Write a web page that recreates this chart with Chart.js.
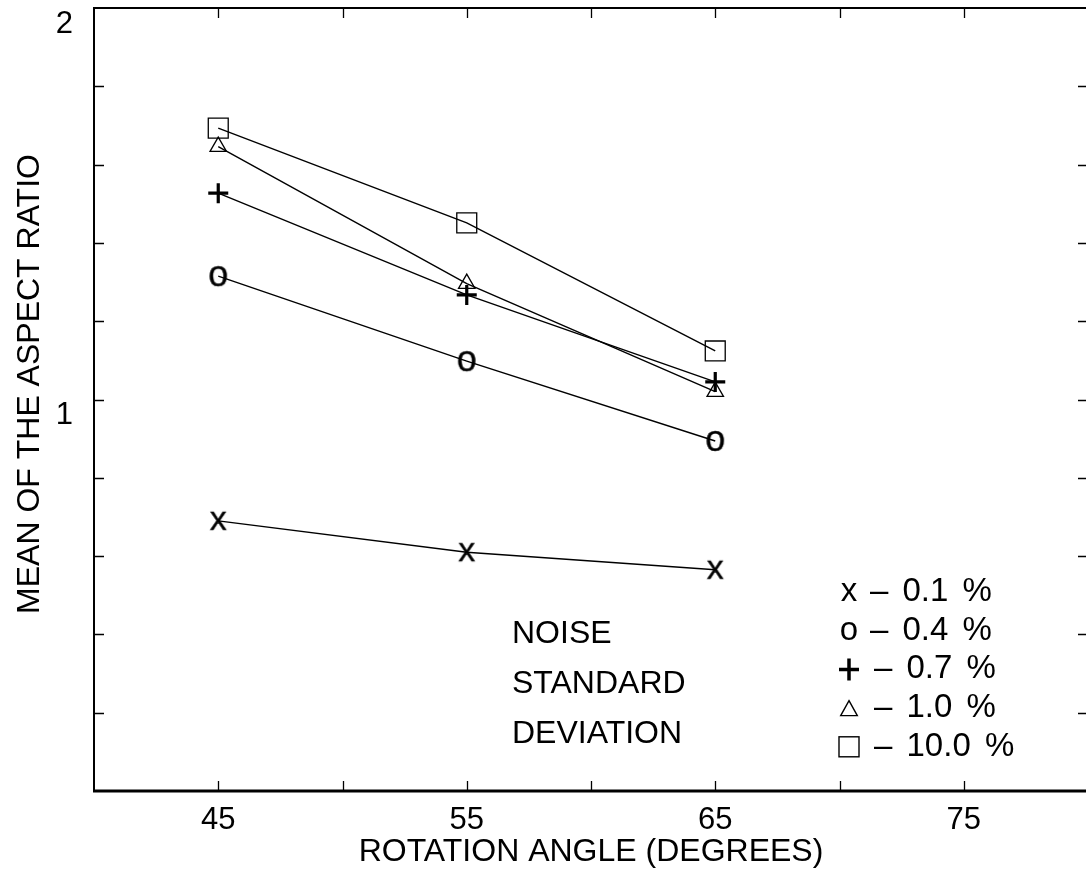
<!DOCTYPE html>
<html>
<head>
<meta charset="utf-8">
<title>Mean of the aspect ratio vs rotation angle</title>
<script src="https://cdn.jsdelivr.net/npm/chart.js@4/dist/chart.umd.min.js"></script>
<style>
  html, body { margin: 0; padding: 0; background: #fff; overflow: hidden; }
  #wrap { width: 1086px; height: 871px; overflow: hidden; position: relative; }
  canvas { display: block; }
</style>
</head>
<body>
<div id="wrap"><canvas id="chart" width="1100" height="871"></canvas></div>
<script>
// Rotation angles (degrees) and mean aspect ratio for each noise level
const angles = [45, 55, 65];
const noise01 = [0.690, 0.610, 0.565];
const noise04 = [1.315, 1.098, 0.894];
const noise07 = [1.527, 1.267, 1.045];
const noise10 = [1.646, 1.296, 1.020];
const noise100 = [1.693, 1.451, 1.124];

// Axis ranges and labelled ticks
const xRange = [40, 80];
const yRange = [0, 2];
const xTickLabels = [45, 55, 65, 75];
const yTickLabels = [1, 2];

// Text
const xTitle = 'ROTATION ANGLE (DEGREES)';
const yTitle = 'MEAN OF THE ASPECT RATIO';
const noteLines = ['NOISE', 'STANDARD', 'DEVIATION'];
const legendSymbols = ['x', 'o', '+', 'triangle', 'square'];
const legendLabels = ['– 0.1 %', '– 0.4 %', '– 0.7 %', '– 1.0 %', '– 10.0 %'];

const FONT = '"Liberation Sans", Arial, Helvetica, sans-serif';

// Letter-shaped markers (x and o) rendered into small canvases
function glyphMarker(ch, size) {
  const c = document.createElement('canvas');
  c.width = 44; c.height = 44;
  const g = c.getContext('2d');
  g.fillStyle = '#000';
  g.strokeStyle = '#000';
  g.lineWidth = 0.4;
  g.font = size + 'px ' + FONT;
  g.textAlign = 'center';
  g.textBaseline = 'alphabetic';
  const m = g.measureText(ch);
  const by = 22 + (m.actualBoundingBoxAscent - m.actualBoundingBoxDescent) / 2;
  g.fillText(ch, 22, by);
  g.strokeText(ch, 22, by);
  return c;
}

function series(values, style, radius, width) {
  return {
    data: angles.map((a, i) => ({ x: a, y: values[i] })),
    borderColor: '#000',
    borderWidth: 1.4,
    backgroundColor: 'transparent',
    fill: false,
    tension: 0,
    pointStyle: style,
    pointRadius: radius,
    pointBorderWidth: width,
    pointBorderColor: '#000',
    pointBackgroundColor: 'transparent'
  };
}

// Box frame with inward tick marks on all four sides
const framePlugin = {
  id: 'frame',
  afterDatasetsDraw(chart) {
    const { ctx, chartArea: a, scales: { x, y } } = chart;
    ctx.save();
    ctx.strokeStyle = '#000';
    ctx.lineCap = 'butt';
    ctx.lineWidth = 2;
    ctx.beginPath();
    ctx.moveTo(a.left, a.bottom);
    ctx.lineTo(a.left, a.top);
    ctx.lineTo(a.right, a.top);
    ctx.lineTo(a.right, a.bottom);
    ctx.stroke();
    ctx.lineWidth = 3;
    ctx.beginPath();
    ctx.moveTo(a.left - 1, a.bottom);
    ctx.lineTo(a.right, a.bottom);
    ctx.stroke();

    const len = 10;
    ctx.lineWidth = 1.3;
    ctx.beginPath();
    x.ticks.forEach(t => {
      if (t.value <= xRange[0] || t.value >= xRange[1]) return;
      const px = Math.round(x.getPixelForValue(t.value)) + 0.5;
      ctx.moveTo(px, a.bottom); ctx.lineTo(px, a.bottom - len);
      ctx.moveTo(px, a.top); ctx.lineTo(px, a.top + len);
    });
    y.ticks.forEach(t => {
      if (t.value <= yRange[0] + 1e-9 || t.value >= yRange[1] - 1e-9) return;
      const py = Math.round(y.getPixelForValue(t.value)) + 0.5;
      ctx.moveTo(a.left, py); ctx.lineTo(a.left + len, py);
      ctx.moveTo(a.right, py); ctx.lineTo(a.right - len, py);
    });
    ctx.stroke();
    ctx.restore();
  }
};

// Vertical axis title, note text and symbol key
const textPlugin = {
  id: 'texts',
  afterDraw(chart) {
    const { ctx, chartArea: a } = chart;
    ctx.save();
    ctx.fillStyle = '#000';
    ctx.strokeStyle = '#000';

    // y-axis title
    ctx.font = '32px ' + FONT;
    ctx.textAlign = 'center';
    ctx.textBaseline = 'middle';
    ctx.translate(30, 384);
    ctx.rotate(-Math.PI / 2);
    ctx.fillText(yTitle, 0, 0);
    ctx.setTransform(1, 0, 0, 1, 0, 0);

    // note
    ctx.font = '32px ' + FONT;
    ctx.textAlign = 'left';
    ctx.textBaseline = 'middle';
    noteLines.forEach((s, i) => ctx.fillText(s, a.left + 418, 634 + i * 50));

    // key
    const symX = a.left + 755;
    legendSymbols.forEach((sym, i) => {
      const cy = 592 + i * 38.7;
      const cx = symX;
      ctx.font = '33px ' + FONT;
      ctx.textAlign = 'center';
      if (sym === 'x' || sym === 'o') {
        ctx.textBaseline = 'alphabetic';
        const m = ctx.measureText(sym);
        ctx.fillText(sym, cx, cy + (m.actualBoundingBoxAscent - m.actualBoundingBoxDescent) / 2);
      } else if (sym === '+') {
        ctx.lineWidth = 3.5;
        ctx.beginPath();
        ctx.moveTo(cx - 10, cy); ctx.lineTo(cx + 10, cy);
        ctx.moveTo(cx, cy - 11); ctx.lineTo(cx, cy + 11);
        ctx.stroke();
      } else if (sym === 'triangle') {
        ctx.lineWidth = 1.4;
        ctx.beginPath();
        ctx.moveTo(cx, cy - 7.5); ctx.lineTo(cx + 8.3, cy + 7.5); ctx.lineTo(cx - 8.3, cy + 7.5);
        ctx.closePath();
        ctx.stroke();
      } else {
        ctx.lineWidth = 1.4;
        ctx.strokeRect(cx - 10, cy - 10, 20, 20);
      }
      ctx.textAlign = 'left';
      ctx.textBaseline = 'middle';
      ctx.font = '33px ' + FONT;
      ctx.wordSpacing = '5px';
      ctx.fillText(legendLabels[i], i < 2 ? symX + 21 : symX + 25, cy);
      ctx.wordSpacing = '0px';
    });
    ctx.restore();
  }
};

const markerX = glyphMarker('x', 34);
const markerO = glyphMarker('o', 36);

new Chart(document.getElementById('chart'), {
  type: 'line',
  data: {
    datasets: [
      series(noise01, markerX, 9, 1),
      series(noise04, markerO, 9, 1),
      series(noise07, 'cross', 10, 3.2),
      series(noise10, 'triangle', 9.5, 1.3),
      series(noise100, 'rect', 14.1, 1.3)
    ]
  },
  options: {
    responsive: false,
    animation: false,
    events: [],
    layout: { autoPadding: false, padding: { top: 8, right: 12, left: 0, bottom: 0 } },
    plugins: { legend: { display: false }, tooltip: { enabled: false } },
    scales: {
      x: {
        type: 'linear',
        min: xRange[0],
        max: xRange[1],
        afterFit(s) { s.height = 80; s.paddingLeft = 0; s.paddingRight = 0; },
        grid: { display: false, drawTicks: false },
        border: { display: false },
        ticks: {
          stepSize: 5,
          autoSkip: false,
          maxRotation: 0,
          padding: 11,
          color: '#000',
          font: { family: FONT, size: 31 },
          callback: v => (xTickLabels.includes(v) ? String(v) : '')
        },
        title: {
          display: true,
          text: xTitle,
          color: '#000',
          font: { family: FONT, size: 32 },
          padding: { top: 0, bottom: 0 }
        }
      },
      y: {
        type: 'linear',
        min: yRange[0],
        max: yRange[1],
        afterFit(s) { s.width = 94; s.paddingTop = 0; s.paddingBottom = 0; },
        grid: { display: false, drawTicks: false },
        border: { display: false },
        ticks: {
          stepSize: 0.2,
          autoSkip: false,
          padding: 21,
          labelOffset: 16,
          color: '#000',
          font: { family: FONT, size: 31 },
          callback: v => {
            const r = Math.round(v * 10) / 10;
            return yTickLabels.includes(r) ? String(r) : '';
          }
        }
      }
    }
  },
  plugins: [framePlugin, textPlugin]
});
</script>
</body>
</html>
